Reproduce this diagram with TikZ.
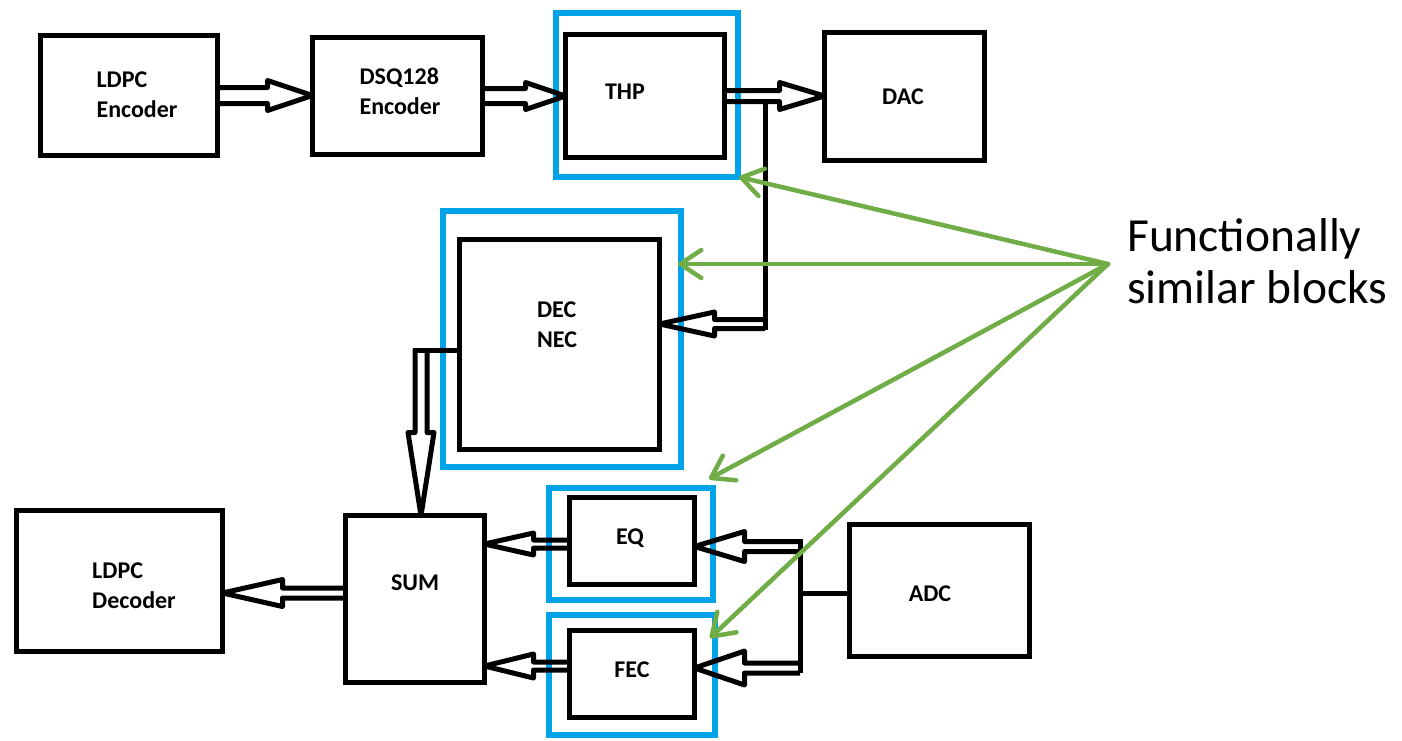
\documentclass[tikz,border=0pt]{standalone}
\usepackage{fontspec}
\setmainfont{Carlito}
\usetikzlibrary{arrows.meta,calc}
\definecolor{pblue}{RGB}{0,162,232}
\definecolor{pgreen}{RGB}{112,173,71}
\tikzset{
  box/.style 2 args={draw=black, line width=5.5pt, inner sep=0pt, outer sep=0pt,
    minimum width=#1, minimum height=#2},
  frame/.style 2 args={draw=pblue, line width=6pt, inner sep=0pt, outer sep=0pt,
    minimum width=#1, minimum height=#2},
  lab/.style={font=\fontsize{24}{30}\selectfont\bfseries, align=left, inner sep=0pt},
  note/.style={font=\fontsize{47.5}{52}\selectfont, align=left, inner sep=0pt, anchor=north west},
  wire/.style={draw=black, line width=5pt},
  blk/.style n args={3}{draw=black, line width=5pt, line join=round, to path={
    let \p1=(\tikztostart), \p2=(\tikztotarget),
        \n1={veclen(\x2-\x1,\y2-\y1)},
        \n2={(\x2-\x1)/\n1}, \n3={(\y2-\y1)/\n1}
    in ({\x1-#1*(\n3)},{\y1+#1*(\n2)})
    -- ({\x2-#3*(\n2)-#1*(\n3)},{\y2-#3*(\n3)+#1*(\n2)})
    -- ({\x2-#3*(\n2)-#2*(\n3)},{\y2-#3*(\n3)+#2*(\n2)})
    -- (\p2)
    -- ({\x2-#3*(\n2)+#2*(\n3)},{\y2-#3*(\n3)-#2*(\n2)})
    -- ({\x2-#3*(\n2)+#1*(\n3)},{\y2-#3*(\n3)-#1*(\n2)})
    -- ({\x1+#1*(\n3)},{\y1-#1*(\n2)})
  }},
  garrow/.style={draw=pgreen, line width=4.5pt, line cap=round,
    -{Straight Barb[length=21pt, width=28pt, round]}},
}
\begin{document}
\begin{tikzpicture}[x=1pt, y=-1pt]
\useasboundingbox[fill=white] (0,0) rectangle (1402,740);

% boxes
\node[box={177pt}{120pt}] (ldpcenc) at (129,95.5) {};
\node[box={170pt}{117pt}] (dsq) at (397.5,96) {};
\node[box={159pt}{123pt}] (thp) at (645,96) {};
\node[frame={182pt}{164pt}] (thpf) at (647,95) {};
\node[box={160pt}{128pt}] (dac) at (904.5,96.5) {};
\node[box={200pt}{210pt}] (decnec) at (559.5,344.5) {};
\node[frame={238pt}{256pt}] (decf) at (562,339) {};
\node[box={206pt}{141pt}] (ldpcdec) at (119.5,581) {};
\node[box={139pt}{167pt}] (sum) at (415,599) {};
\node[box={125pt}{87pt}] (eq) at (632,541) {};
\node[frame={164pt}{112pt}] (eqf) at (631,544) {};
\node[box={125pt}{87pt}] (fec) at (632,674) {};
\node[frame={166pt}{120pt}] (fecf) at (632,675) {};
\node[box={180pt}{132pt}] (adc) at (939.5,590.5) {};

% labels
\node[lab] (t1) at (137,95) {LDPC\\Encoder};
\node[lab] (t2) at (400,91) {DSQ128\\Encoder};
\node[lab] (t3) at (625,92) {THP};
\node[lab] (t4) at (903,97) {DAC};
\node[lab] (t5) at (557,325) {DEC\\NEC};
\node[lab] (t6) at (134,586) {LDPC\\Decoder};
\node[lab] (t7) at (415,583) {SUM};
\node[lab] (t8) at (630,538) {EQ};
\node[lab] (t9) at (632,670) {FEC};
\node[lab] (t10) at (930,594) {ADC};
\node[note] (fs) at (1127,218) {Functionally\\similar blocks};

% block arrows
\draw[blk={8}{15}{45}] (ldpcenc.east) to (ldpcenc.east -| dsq.west);
\draw[blk={7.5}{13.5}{40}] (dsq.east) to (dsq.east -| thp.west);
\draw[blk={5.5}{13.5}{45}] (thp.east) to (thp.east -| dac.west);

\coordinate (b1) at (765,101.5);
\coordinate (b2) at (765,330);
\draw[wire] (b1) -- (b2);
\draw[blk={4.5}{12}{55}] (765,324) to (decnec.east |- 0,324);

\coordinate (d1) at (413,350);
\draw[wire] (decnec.west |- d1) -- (d1);
\draw[blk={6}{13}{83}] (421,349) to (421,515.5);

\draw[blk={4}{11}{49}] (eq.west |- 0,544) to (sum.east |- 0,544);
\draw[blk={4}{12}{49}] (fec.west |- 0,666) to (sum.east |- 0,666);
\draw[blk={5}{13.5}{60}] (sum.west |- 0,593) to (ldpcdec.east |- 0,593);

\coordinate (a1) at (800,593);
\coordinate (a2) at (800,539);
\coordinate (a3) at (800,673);
\draw[wire] (adc.west |- a1) -- (a1);
\draw[wire] (a2) -- (a3);
\draw[blk={5}{15}{50}] (800,546.5) to (eq.east |- 0,546.5);
\draw[blk={5}{17}{50}] (800,668) to (fec.east |- 0,668);

% green arrows
\coordinate (src) at (1108,264);
\draw[garrow] (src) -- ($(thpf.south east)+(1,0)$);
\draw[garrow] (src) -- ($(decf.east |- src)+(-3,0)$);
\draw[garrow] (src) -- ($(eqf.north east)+(-4,-9)$);
\draw[garrow] (src) -- ($(fecf.east |- 0,638)+(-5,0)$);
\end{tikzpicture}
\end{document}
